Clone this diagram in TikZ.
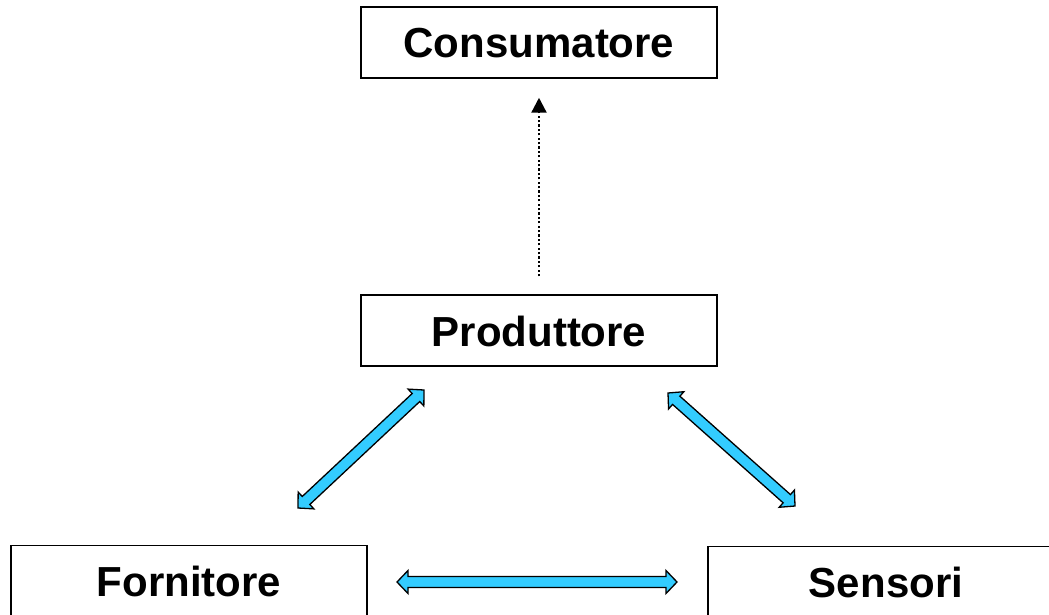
\documentclass[tikz,border=0pt]{standalone}
\usepackage{fontspec}
\setmainfont{Liberation Sans}
\usetikzlibrary{calc,arrows.meta}
\definecolor{arrowcyan}{RGB}{51,204,255}
\tikzset{
  box/.style={draw=black, line width=1.5pt, rectangle, minimum width=356pt, minimum height=71pt,
    inner sep=0pt, font=\fontsize{42}{50}\selectfont\bfseries, text height=31pt, text depth=0pt},
  fatarrow/.style={fill=arrowcyan, draw=black, line width=1.3pt, line join=miter},
  dotarrow/.style={line width=2.3pt, dash pattern=on 2.2pt off 2.2pt, -{Triangle[length=15pt,width=15pt]}}
}
\newcommand{\dblarrow}[2]{%
  \path[fatarrow] (#1)
    -- ($(#1)!11pt!(#2)!11.5pt!90:(#2)$)
    -- ($(#1)!11pt!(#2)!5.5pt!90:(#2)$)
    -- ($(#2)!11pt!(#1)!5.5pt!-90:(#1)$)
    -- ($(#2)!11pt!(#1)!11.5pt!-90:(#1)$)
    -- (#2)
    -- ($(#2)!11pt!(#1)!11.5pt!90:(#1)$)
    -- ($(#2)!11pt!(#1)!5.5pt!90:(#1)$)
    -- ($(#1)!11pt!(#2)!5.5pt!-90:(#2)$)
    -- ($(#1)!11pt!(#2)!11.5pt!-90:(#2)$)
    -- cycle;}
\begin{document}
\begin{tikzpicture}[x=1pt,y=-1pt]
\useasboundingbox (0,0) rectangle (1049,615);
\clip (0,0) rectangle (1049,615);
\node[box] (cons) at (539,42.5) {Consumatore};
\node[box] (prod) at (539,330.5) {Produttore};
\node[box] (forn) at (189,581) {Fornitore};
\node[box] (sens) at (886,582) {Sensori};
\draw[dotarrow, shorten <=18pt, shorten >=19pt] (prod.north) -- (cons.south);
\coordinate (fp1) at (298,508);
\coordinate (fp2) at (424,390);
\coordinate (sp1) at (668,393);
\coordinate (sp2) at (795,506);
\coordinate (fs1) at (397,582);
\coordinate (fs2) at (677,582);
\dblarrow{fp1}{fp2}
\dblarrow{sp1}{sp2}
\dblarrow{fs1}{fs2}
\end{tikzpicture}
\end{document}
